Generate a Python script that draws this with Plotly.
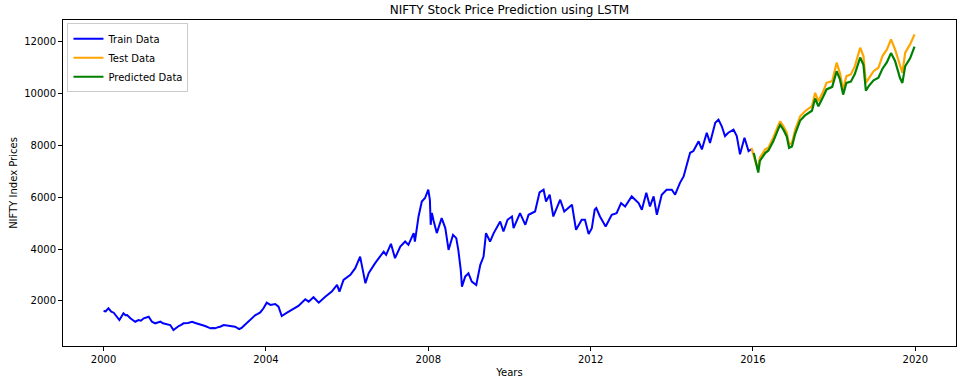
import pandas as pd
import plotly.graph_objects as go

# ---- data (fractional year, index value) ----
train_years = [
    2000.00, 2000.05, 2000.12, 2000.16, 2000.19, 2000.25, 2000.33, 2000.39, 2000.45, 2000.49,
    2000.54, 2000.58, 2000.66, 2000.72, 2000.78, 2000.86, 2000.92, 2000.99, 2001.05, 2001.11,
    2001.19, 2001.27, 2001.33, 2001.40, 2001.46, 2001.52, 2001.58, 2001.64, 2001.72, 2001.78,
    2001.85, 2001.91, 2001.97, 2002.08, 2002.18, 2002.26, 2002.34, 2002.42, 2002.50, 2002.58,
    2002.63, 2002.70, 2002.75, 2002.82, 2002.87, 2002.96, 2003.02, 2003.08, 2003.16, 2003.24,
    2003.34, 2003.40, 2003.45, 2003.53, 2003.61, 2003.68, 2003.74, 2003.80, 2003.86, 2003.94,
    2004.02, 2004.11, 2004.23, 2004.31, 2004.39, 2004.52, 2004.64, 2004.80, 2004.97, 2005.05,
    2005.17, 2005.30, 2005.46, 2005.62, 2005.75, 2005.81, 2005.91, 2006.08, 2006.20, 2006.32,
    2006.36, 2006.45, 2006.53, 2006.69, 2006.90, 2006.96, 2007.08, 2007.18, 2007.31, 2007.43,
    2007.51, 2007.60, 2007.64, 2007.67, 2007.76, 2007.84, 2007.92, 2008.00, 2008.04, 2008.06,
    2008.09, 2008.13, 2008.21, 2008.33, 2008.42, 2008.50, 2008.61, 2008.69, 2008.74, 2008.80,
    2008.83, 2008.91, 2008.99, 2009.07, 2009.18, 2009.28, 2009.36, 2009.42, 2009.52, 2009.61,
    2009.77, 2009.85, 2009.95, 2010.06, 2010.10, 2010.26, 2010.39, 2010.47, 2010.63, 2010.74,
    2010.84, 2010.90, 2010.99, 2011.08, 2011.25, 2011.35, 2011.54, 2011.64, 2011.78, 2011.86,
    2011.95, 2012.03, 2012.10, 2012.14, 2012.23, 2012.37, 2012.52, 2012.64, 2012.75, 2012.85,
    2013.01, 2013.18, 2013.26, 2013.37, 2013.46, 2013.55, 2013.63, 2013.75, 2013.87, 2014.00,
    2014.08, 2014.20, 2014.29, 2014.37, 2014.45, 2014.53, 2014.66, 2014.74, 2014.86, 2014.94,
    2015.07, 2015.15, 2015.23, 2015.31, 2015.39, 2015.52, 2015.60, 2015.68, 2015.79, 2015.89,
    2015.95,
]
train_values = [
    1614, 1600, 1718, 1650, 1587, 1548, 1370, 1266, 1420, 1525,
    1450, 1460, 1332, 1250, 1201, 1266, 1240, 1332, 1350, 1394,
    1201, 1139, 1170, 1201, 1140, 1112, 1100, 1073, 880, 960,
    1035, 1080, 1139, 1150, 1201, 1150, 1112, 1090, 1035, 980,
    946, 960, 946, 990, 1008, 1073, 1060, 1047, 1030, 1008,
    919, 960, 1035, 1150, 1266, 1350, 1459, 1500, 1560, 1718,
    1934, 1846, 1884, 1780, 1421, 1548, 1653, 1807, 2066, 1973,
    2143, 1934, 2166, 2359, 2618, 2359, 2811, 3004, 3263, 3710,
    3390, 2683, 3069, 3456, 3903, 3776, 4201, 3649, 4097, 4290,
    4162, 4500, 4614, 4290, 5255, 5834, 5965, 6286, 5900, 4934,
    5386, 5100, 4614, 5193, 4807, 3969, 4548, 4421, 3969, 3197,
    2552, 2938, 3069, 2745, 2618, 3390, 3710, 4614, 4290, 4614,
    5062, 4677, 5127, 5255, 4807, 5386, 4934, 5321, 5448, 6181,
    6286, 5834, 6093, 5255, 5900, 5448, 5707, 4741, 5127, 5127,
    4580, 4807, 5514, 5579, 5255, 4869, 5321, 5386, 5772, 5641,
    6028, 5772, 5514, 6170, 5641, 6028, 5321, 6093, 6286, 6286,
    6093, 6552, 6799, 7259, 7710, 7774, 8150, 7838, 8483, 8090,
    8866, 8988, 8730, 8355, 8483, 8602, 8355, 7650, 8291, 7774,
    7838,
]

test_years = [
    2015.96, 2016.01, 2016.12, 2016.17, 2016.30, 2016.38, 2016.50, 2016.63, 2016.67, 2016.75,
    2016.83, 2016.89, 2016.96, 2017.04, 2017.16, 2017.28, 2017.45, 2017.53, 2017.61, 2017.73,
    2017.81, 2017.95, 2018.06, 2018.14, 2018.22, 2018.30, 2018.41, 2018.51, 2018.64, 2018.72,
    2018.78, 2018.86, 2018.97, 2019.09, 2019.19, 2019.30, 2019.40, 2019.50, 2019.62, 2019.68,
    2019.75, 2019.87, 2019.98,
]
test_values = [
    7900, 7650, 7066, 7518, 7838, 7900, 8291, 8795, 8924, 8730,
    8483, 8034, 8090, 8602, 9117, 9310, 9503, 10020, 9695, 10081,
    10405, 10469, 11181, 10791, 10150, 10663, 10728, 11046, 11757, 11436,
    10405, 10598, 10854, 10985, 11436, 11693, 12078, 11693, 11046, 10791,
    11565, 11884, 12270,
]

pred_years = [
    2016.02, 2016.13, 2016.17, 2016.30, 2016.38, 2016.50, 2016.63, 2016.67, 2016.75, 2016.83,
    2016.89, 2016.96, 2017.04, 2017.16, 2017.28, 2017.45, 2017.53, 2017.61, 2017.73, 2017.81,
    2017.95, 2018.06, 2018.14, 2018.22, 2018.30, 2018.41, 2018.51, 2018.64, 2018.72, 2018.78,
    2018.86, 2018.97, 2019.09, 2019.19, 2019.30, 2019.40, 2019.50, 2019.62, 2019.68, 2019.75,
    2019.87, 2019.98,
]
pred_values = [
    7700, 6950, 7400, 7700, 7800, 8150, 8650, 8780, 8600, 8350,
    7900, 7950, 8450, 8950, 9150, 9330, 9800, 9500, 9880, 10150,
    10250, 10850, 10550, 9950, 10400, 10450, 10750, 11380, 11100, 10100,
    10300, 10500, 10600, 10950, 11200, 11550, 11250, 10600, 10400, 11050,
    11350, 11800,
]

tick_years = [2000, 2004, 2008, 2012, 2016, 2020]
y_ticks = [2000, 4000, 6000, 8000, 10000, 12000]


def to_dates(years):
    out = []
    for y in years:
        base = pd.Timestamp(year=int(y), month=1, day=1)
        out.append(base + pd.Timedelta(days=(y - int(y)) * 365.25))
    return out


FONT = "DejaVu Sans"
fig = go.Figure()
fig.add_trace(go.Scatter(x=to_dates(train_years), y=train_values, mode="lines",
                         name="Train Data", line=dict(color="blue", width=2)))
fig.add_trace(go.Scatter(x=to_dates(test_years), y=test_values, mode="lines",
                         name="Test Data", line=dict(color="orange", width=2.2)))
fig.add_trace(go.Scatter(x=to_dates(pred_years), y=pred_values, mode="lines",
                         name="Predicted Data", line=dict(color="green", width=2.2)))

fig.update_layout(
    width=966, height=383,
    margin=dict(l=63, r=10, t=20, b=37),
    paper_bgcolor="white", plot_bgcolor="white",
    font=dict(family=FONT, size=10, color="black"),
    title=dict(text="NIFTY Stock Price Prediction using LSTM", x=0.5, xref="paper",
               y=1 - 10 / 383, yref="container", yanchor="middle", xanchor="center",
               font=dict(family=FONT, size=12, color="black")),
    showlegend=True,
    legend=dict(x=0.005, y=0.99, xanchor="left", yanchor="top",
                bgcolor="white", bordercolor="#cccccc", borderwidth=1,
                font=dict(family=FONT, size=10, color="black"), tracegroupgap=0),
)
fig.update_xaxes(
    type="date", automargin=False,
    range=[pd.Timestamp("1999-01-01"), pd.Timestamp("2021-01-01")],
    tickvals=[pd.Timestamp(year=y, month=1, day=1) for y in tick_years],
    ticktext=[str(y) for y in tick_years],
    showline=True, mirror=True, linecolor="black", linewidth=1,
    ticks="outside", ticklen=4, tickcolor="black", showgrid=False, zeroline=False,
    title=dict(text="Years", standoff=4, font=dict(family=FONT, size=10)),
)
fig.update_yaxes(
    automargin=False,
    range=[265, 12825],
    tickvals=y_ticks, ticktext=[str(v) for v in y_ticks],
    showline=True, mirror=True, linecolor="black", linewidth=1,
    ticks="outside", ticklen=4, tickcolor="black", showgrid=False, zeroline=False,
    title=dict(text="NIFTY Index Prices", standoff=4, font=dict(family=FONT, size=10)),
)

fig.write_html("out.html")
